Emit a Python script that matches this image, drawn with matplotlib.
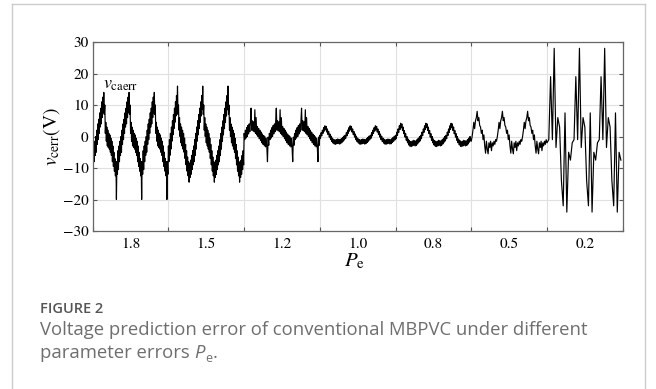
import numpy as np
import matplotlib
matplotlib.use('Agg')
import matplotlib.pyplot as plt
from matplotlib.lines import Line2D

# P_e of each section of the record (left to right)
pe_labels = ['1.8', '1.5', '1.2', '1.0', '0.8', '0.5', '0.2']
periods_per_block = 3

# one period of v_caerr (V) for each section, evenly spaced in time
wave_18 = [-4.5, -10.5, -3, -8, -1.5, -6, 0, -5, 2, -2.5, 4, -1, 5.5, 1, 7.5, 3, 9,
           4, 11, 6, 12.5, 7.5, 14, 7, 10, 1, 4.5, -1.5, 3, -3, 2, -3.5, 1, -4,
           0.5, -5, -0.5, -6, -1.5, -8, -3, -9.5, -5, -11, -7, -12.5, -8, -20, -8, -12]
wave_15 = [-3, -8, -1, -6, 1, -4, 3, -1.5, 5, 0.5, 7, 2.5, 9, 4.5, 11, 6.5, 13, 8.5,
           16, 7, 10, 2, 6, 0, 4, -2, 3, -3, 2, -4, 1, -5, -0.5, -7, -2.5, -9, -4.5,
           -11, -6.5, -12.5, -8, -14.5, -8.5, -13, -7.5, -12, -6, -10.5, -4.5, -9]
wave_12 = [1, -1, 2, -0.5, 2.8, 0, 3.5, 0.8, 4, 1.5, 4.7, 9, 2, 5, 1.8, 4.7, 1.5, 8.5,
           1, 6, 0.5, 3.2, 0, 2.6, -0.7, 2, -1.3, 1.4, -2, 0.8, -2.5, 0.3, -3, -0.1, -3.3,
           -0.5, -3.5, -8, -0.2, -2.8]
wave_10 = [0.4, -0.6, 1.2, 0.2, 2.0, 1.0, 2.8, 1.7, 3.4, 2.1, 3.2, 1.4, 2.4, 0.6, 1.6,
           -0.2, 0.8, -1.0, 0.1, -1.6, -0.5, -2.1, -0.9, -2.4, -1.1, -2.5, -1.0, -2.3,
           -0.8, -2.2, -0.9, -2.4, -1.0, -2.3, -0.7, -1.9, -0.3, -1.5, 0.1, -1.1]
wave_08 = [0.4, -0.7, 1.4, 0.3, 2.4, 1.3, 3.4, 2.2, 4.2, 2.8, 4.0, 1.9, 3.0, 0.9, 1.9,
           -0.2, 0.9, -1.2, 0.0, -2.0, -0.8, -2.7, -1.3, -3.1, -1.6, -3.2, -1.5, -3.0,
           -1.2, -2.8, -1.3, -3.0, -1.4, -2.8, -1.0, -2.4, -0.5, -1.8, 0.0, -1.4]
wave_05 = [-1.5, 0, 2, 4.5, 2.5, 5, 6, 8, 5, 6, 3.5, 3, 1, 2, -1,
           0.5, -3, -5.3, -1.5, -4, -5.5, -2, -3.5, -1.5, -4.5, -2, -3, -1.5, -2.5, -1]
wave_02 = [-2, -1, 19, -1, 28, -3.5, 6, 3, -14, -22, 7.5, -24, -5, -7.5]

blocks = [wave_18, wave_15, wave_12, wave_10, wave_08, wave_05, wave_02]

plt.rcParams['font.family'] = 'STIXGeneral'
plt.rcParams['mathtext.fontset'] = 'stix'
plt.rcParams['axes.unicode_minus'] = True

fig = plt.figure(figsize=(6.56, 3.89), dpi=100)
ax = fig.add_axes([92.7 / 656, 1 - 231 / 389, 530 / 656, 189 / 389])

xs, ys = [], []
for i, w in enumerate(blocks):
    vals = np.tile(w, periods_per_block)
    xs.append(i + np.arange(len(vals)) / len(vals))
    ys.append(vals)
x = np.concatenate(xs)
y = np.concatenate(ys)

ax.plot(x, y, color='black', lw=0.85)

ax.set_xlim(0, 7)
ax.set_ylim(-30, 30)
ax.set_xticks(range(8))
ax.set_xticklabels([])
ax.set_xticks(np.arange(7) + 0.5, minor=True)
ax.set_xticklabels(pe_labels, minor=True)
ax.set_yticks(range(-30, 31, 10))
ax.grid(which='major', color='#e0e0e0', lw=0.8)
ax.set_axisbelow(True)
ax.tick_params(which='major', direction='in', top=True, right=True,
               length=3, width=0.8, color='#555555', labelsize=11, pad=3)
ax.tick_params(axis='x', which='minor', length=0, labelsize=11, pad=5)
for s in ax.spines.values():
    s.set_color('#666666')
    s.set_linewidth(0.9)

ax.text(0.135, 15.2, r'$v_{\mathrm{caerr}}$', fontsize=13, va='baseline')
fig.text(52 / 656, 1 - 137 / 389, r'$v_{\mathrm{cerr}}$(V)', rotation=90,
         fontsize=14, ha='center', va='center')
fig.text(355 / 656, 1 - 261 / 389, r'$P_{\mathrm{e}}$', fontsize=15,
         ha='center', va='center')

# card border (no bottom edge)
bc = '#cccccc'
fig.add_artist(Line2D([12 / 656, 12 / 656], [0, 1 - 4 / 389], color=bc, lw=1))
fig.add_artist(Line2D([12 / 656, 645 / 656], [1 - 4 / 389, 1 - 4 / 389], color=bc, lw=1))
fig.add_artist(Line2D([645 / 656, 645 / 656], [0, 1 - 4 / 389], color=bc, lw=1))

# caption
cap = '#6e6e6e'
cx = 40 / 656
fig.text(cx, 1 - 313 / 389, 'FIGURE 2', family='Open Sans', fontsize=10.5,
         weight='semibold', color='#555555', va='baseline')
fig.text(cx, 1 - 335 / 389,
         'Voltage prediction error of conventional MBPVC under different',
         family='Open Sans', fontsize=13.3, color=cap, va='baseline')
t = fig.text(cx, 1 - 358 / 389, 'parameter errors ', family='Open Sans',
             fontsize=13.3, color=cap, va='baseline')
fig.canvas.draw()
r = fig.canvas.get_renderer()
bb = t.get_window_extent(r)
p = fig.text(bb.x1 / 656, 1 - 358 / 389, 'P', family='Open Sans', style='italic',
             fontsize=13.3, color=cap, va='baseline')
bb = p.get_window_extent(r)
e = fig.text(bb.x1 / 656, 1 - 362 / 389, 'e', family='Open Sans',
             fontsize=9, color=cap, va='baseline')
bb = e.get_window_extent(r)
fig.text(bb.x1 / 656, 1 - 358 / 389, '.', family='Open Sans',
         fontsize=13.3, color=cap, va='baseline')

fig.savefig('out.png', dpi=100)
